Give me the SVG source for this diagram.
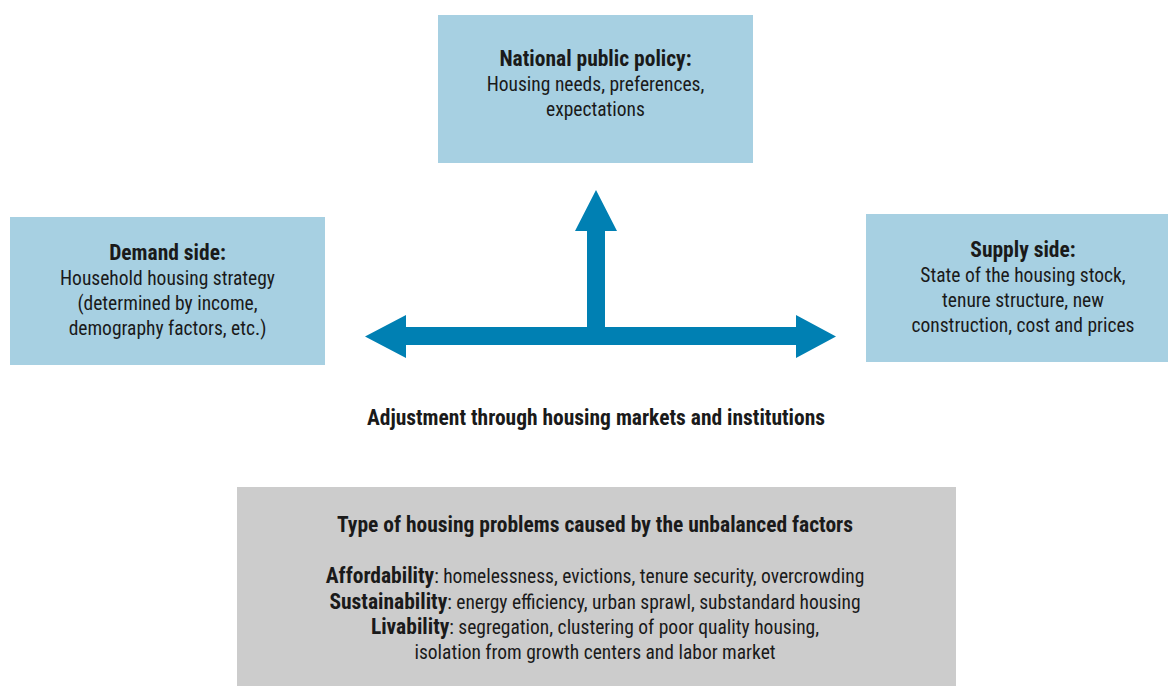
<svg xmlns="http://www.w3.org/2000/svg" width="1168" height="686" viewBox="0 0 1168 686">
<style>
text{font-family:"Liberation Sans Narrow","Roboto Condensed","DejaVu Sans Condensed",sans-serif;font-stretch:condensed;font-size:19.5px;fill:#1a1a1a;text-anchor:middle}
.b{font-weight:bold;font-size:21.5px}
.blue{fill:#a7d0e2}
.grey{fill:#cccccc}
</style>
<rect width="1168" height="686" fill="#ffffff"/>
<g id="policy">
<rect class="blue" x="438" y="15" width="315" height="148"/>
<text x="595.5" y="65.5" class="b">National public policy:</text>
<text x="595.5" y="91">Housing needs, preferences,</text>
<text x="595.5" y="116">expectations</text>
</g>
<g id="demand">
<rect class="blue" x="10" y="217" width="315" height="148"/>
<text x="167.5" y="259.5" class="b">Demand side:</text>
<text x="167.5" y="285">Household housing strategy</text>
<text x="167.5" y="310">(determined by income,</text>
<text x="167.5" y="335">demography factors, etc.)</text>
</g>
<g id="supply">
<rect class="blue" x="866" y="214" width="302" height="148"/>
<text x="1023" y="256.5" class="b">Supply side:</text>
<text x="1023" y="282">State of the housing stock,</text>
<text x="1023" y="307">tenure structure, new</text>
<text x="1023" y="332">construction, cost and prices</text>
</g>
<g id="connectors">
<path fill="#0080b3" d="M596 190 L617 231 L605 231 L605 327 L796 327 L796 315 L836 336.5 L796 358 L796 345 L406 345 L406 358 L365 336.5 L406 315 L406 327 L587 327 L587 231 L575 231 Z"/>
</g>
<g id="adjustment">
<text x="596" y="424.5" class="b">Adjustment through housing markets and institutions</text>
</g>
<g id="problems">
<rect class="grey" x="237" y="487" width="719" height="199"/>
<text x="595" y="532" class="b">Type of housing problems caused by the unbalanced factors</text>
<text x="595" y="583"><tspan class="b">Affordability</tspan>: homelessness, evictions, tenure security, overcrowding</text>
<text x="595" y="609"><tspan class="b">Sustainability</tspan>: energy efficiency, urban sprawl, substandard housing</text>
<text x="595" y="634"><tspan class="b">Livability</tspan>: segregation, clustering of poor quality housing,</text>
<text x="595" y="659">isolation from growth centers and labor market</text>
</g>
</svg>
